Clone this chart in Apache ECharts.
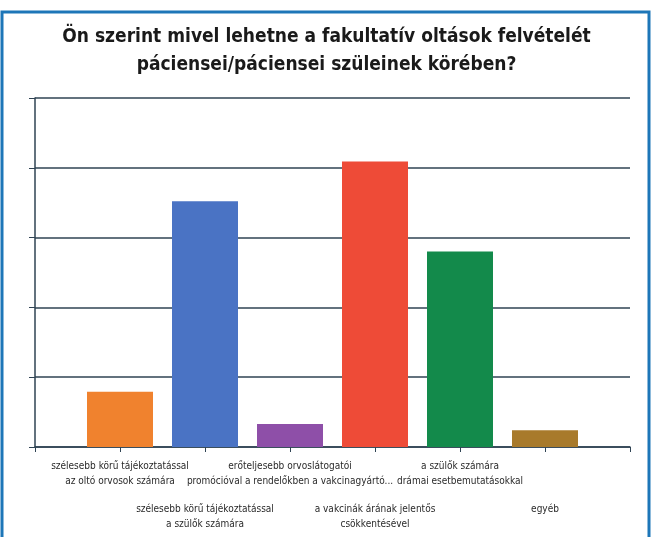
<!DOCTYPE html>
<html>
<head>
<meta charset="utf-8">
<script src="https://cdn.jsdelivr.net/npm/echarts@6/dist/echarts.min.js"></script>
<style>
  html, body { margin: 0; padding: 0; background: #fff; }
  #main { width: 653px; height: 537px; }
</style>
</head>
<body>
<div id="main"></div>
<script>
// kategóriák (az üres elemek csak a tengely két végét adják)
const categories = [
  "",
  "szélesebb körű tájékoztatással\naz oltó orvosok számára",
  "szélesebb körű tájékoztatással\na szülők számára",
  "erőteljesebb orvoslátogatói\npromócióval a rendelőkben a vakcinagyártó...",
  "a vakcinák árának jelentős\ncsökkentésével",
  "a szülők számára\ndrámai esetbemutatásokkal",
  "egyéb",
  ""
];
const values = ["-", 7.9, 35.2, 3.3, 40.9, 28, 2.4, "-"];
const barColors = ["", "#F0822E", "#4A73C4", "#8E4FA8", "#EE4B37", "#138A4B", "#A87A2B", ""];
const yTicks = [0, 10, 20, 30, 40, 50];

const chart = echarts.init(document.getElementById("main"));
const labelFont = "'Liberation Sans Narrow', 'DejaVu Sans Condensed', sans-serif";
const gridColor = "#2f4353";

const option = {
  backgroundColor: "#fff",
  animation: false,
  title: {
    text: "Ön szerint mivel lehetne a fakultatív oltások felvételét\npáciensei/páciensei szüleinek körében?",
    left: "center",
    top: 18,
    textStyle: {
      fontFamily: labelFont,
      fontWeight: "bold",
      fontSize: 19,
      lineHeight: 28,
      color: "#1a1a1a"
    }
  },
  graphic: [
    {
      type: "rect",
      shape: { x: 2, y: 12, width: 647, height: 535 },
      style: { fill: "none", stroke: "#1d76b8", lineWidth: 3 },
      silent: true
    }
  ],
  grid: {
    left: 35,
    right: 23,
    top: 98,
    bottom: 90
  },
  xAxis: [
    {
      type: "category",
      data: categories,
      boundaryGap: false,
      axisLine: { lineStyle: { color: gridColor, width: 1.5 } },
      axisTick: { length: 5, lineStyle: { color: gridColor } },
      axisLabel: {
        interval: 0,
        margin: 12,
        fontFamily: labelFont,
        fontSize: 10,
        lineHeight: 15,
        color: "#2a2a2a",
        formatter: (v, i) => (i % 2 === 1 ? v : "")
      }
    },
    {
      type: "category",
      data: categories,
      boundaryGap: false,
      position: "bottom",
      offset: 43,
      axisLine: { show: false },
      axisTick: { show: false },
      axisLabel: {
        interval: 0,
        margin: 12,
        fontFamily: labelFont,
        fontSize: 10,
        lineHeight: 15,
        color: "#2a2a2a",
        formatter: (v, i) => (i % 2 === 0 ? v : "")
      }
    }
  ],
  yAxis: {
    type: "value",
    min: yTicks[0],
    max: yTicks[yTicks.length - 1],
    interval: yTicks[1] - yTicks[0],
    axisLine: { show: true, lineStyle: { color: gridColor, width: 1.5 } },
    axisTick: { show: true, length: 6, lineStyle: { color: gridColor } },
    axisLabel: { show: false },
    splitLine: { show: true, lineStyle: { color: gridColor, width: 1.5 } }
  },
  series: [
    {
      type: "bar",
      xAxisIndex: 0,
      barWidth: 66,
      data: values.map((v, i) => ({
        value: v,
        itemStyle: { color: barColors[i] }
      }))
    }
  ]
};

chart.setOption(option);
</script>
</body>
</html>
